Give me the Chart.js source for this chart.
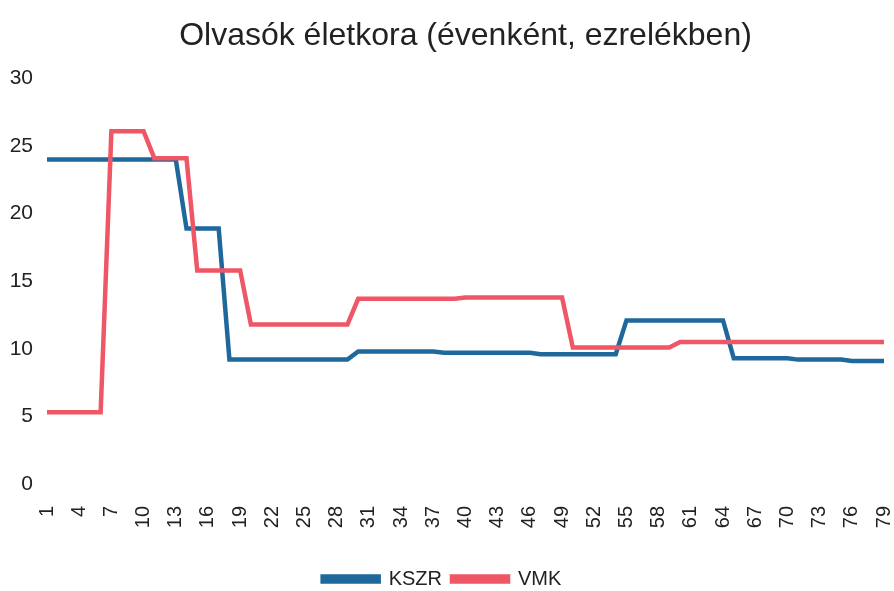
<!DOCTYPE html>
<html>
<head>
<meta charset="utf-8">
<script src="https://cdn.jsdelivr.net/npm/chart.js@4"></script>
<style>
  html, body { margin: 0; padding: 0; background: #fff; }
</style>
</head>
<body>
<canvas id="chart" width="894" height="591"></canvas>
<script>
// életkor (év) - kategóriák
var ages = [1,2,3,4,5,6,7,8,9,10,11,12,13,14,15,16,17,18,19,20,
            21,22,23,24,25,26,27,28,29,30,31,32,33,34,35,36,37,38,39,40,
            41,42,43,44,45,46,47,48,49,50,51,52,53,54,55,56,57,58,59,60,
            61,62,63,64,65,66,67,68,69,70,71,72,73,74,75,76,77,78,79];

// csak ezek a címkék látszanak az x tengelyen
var shownTicks = [1,4,7,10,13,16,19,22,25,28,31,34,37,40,43,46,49,52,55,58,61,64,67,70,73,76,79];

// KSZR ezrelékben
var kszr = [24,24,24,24,24,24,24,24,24,24,24,24,24,
            18.9,18.9,18.9,18.9,
            9.2,9.2,9.2,9.2,9.2,9.2,9.2,9.2,9.2,9.2,9.2,9.2,
            9.8,9.8,9.8,9.8,9.8,9.8,9.8,9.8,
            9.7,9.7,9.7,9.7,9.7,9.7,9.7,9.7,9.7,
            9.6,9.6,9.6,9.6,9.6,9.6,9.6,9.6,
            12.1,12.1,12.1,12.1,12.1,12.1,12.1,12.1,12.1,12.1,
            9.3,9.3,9.3,9.3,9.3,9.3,
            9.2,9.2,9.2,9.2,9.2,
            9.1,9.1,9.1,9.1];

// VMK ezrelékben
var vmk = [5.3,5.3,5.3,5.3,5.3,5.3,
           26.1,26.1,26.1,26.1,
           24.1,24.1,24.1,24.1,
           15.8,15.8,15.8,15.8,15.8,
           11.8,11.8,11.8,11.8,11.8,11.8,11.8,11.8,11.8,11.8,
           13.7,13.7,13.7,13.7,13.7,13.7,13.7,13.7,13.7,13.7,
           13.8,13.8,13.8,13.8,13.8,13.8,13.8,13.8,13.8,13.8,
           10.1,10.1,10.1,10.1,10.1,10.1,10.1,10.1,10.1,10.1,
           10.5,10.5,10.5,10.5,10.5,10.5,10.5,10.5,10.5,10.5,
           10.5,10.5,10.5,10.5,10.5,10.5,10.5,10.5,10.5,10.5];

var yTicks = [0,5,10,15,20,25,30];

var BLUE = '#1f689c';
var RED  = '#ef5666';
var FONT = "'Liberation Sans', Arial, sans-serif";

new Chart(document.getElementById('chart'), {
  type: 'line',
  data: {
    labels: ages,
    datasets: [
      {
        label: 'KSZR',
        data: kszr,
        borderColor: BLUE,
        backgroundColor: BLUE,
        borderWidth: 4.5,
        pointRadius: 0,
        tension: 0,
        order: 1
      },
      {
        label: 'VMK',
        data: vmk,
        borderColor: RED,
        backgroundColor: RED,
        borderWidth: 4.5,
        pointRadius: 0,
        tension: 0,
        order: 0   // a piros vonal legyen felül
      }
    ]
  },
  options: {
    responsive: false,
    animation: false,
    layout: { padding: { left: 0, right: 10, top: 0, bottom: -8 } },
    plugins: {
      title: {
        display: true,
        fullSize: false,
        text: 'Olvasók életkora (évenként, ezrelékben)',
        color: '#222',
        font: { family: FONT, size: 32, weight: 'normal' },
        padding: { top: 17, bottom: 23 }
      },
      legend: {
        position: 'bottom',
        labels: {
          color: '#222',
          font: { family: FONT, size: 20, lineHeight: 1 },
          boxWidth: 56,
          boxHeight: 5,
          padding: 10,
          // a jelmagyarázatban a KSZR legyen elöl
          sort: function(a, b){ return a.datasetIndex - b.datasetIndex; }
        }
      },
      tooltip: { enabled: false }
    },
    scales: {
      x: {
        offset: false,
        grid: { display: false },
        border: { display: false },
        ticks: {
          autoSkip: false,
          maxRotation: 90,
          minRotation: 90,
          padding: 14,
          color: '#222',
          font: { family: FONT, size: 20 },
          callback: function(v, i){
            return shownTicks.indexOf(ages[i]) >= 0 ? String(ages[i]) : '';
          }
        },
        afterFit: function(s){
          s.height = 75;
          s.paddingLeft = 0;
          s.paddingRight = 0;
        }
      },
      y: {
        min: 0,
        max: 30,
        grid: { display: false },
        border: { display: false },
        afterBuildTicks: function(s){
          s.ticks = yTicks.map(function(v){ return { value: v }; });
        },
        ticks: {
          padding: 6,
          color: '#222',
          font: { family: FONT, size: 21 }
        },
        afterFit: function(s){ s.width = 47; }
      }
    }
  }
});
</script>
</body>
</html>
